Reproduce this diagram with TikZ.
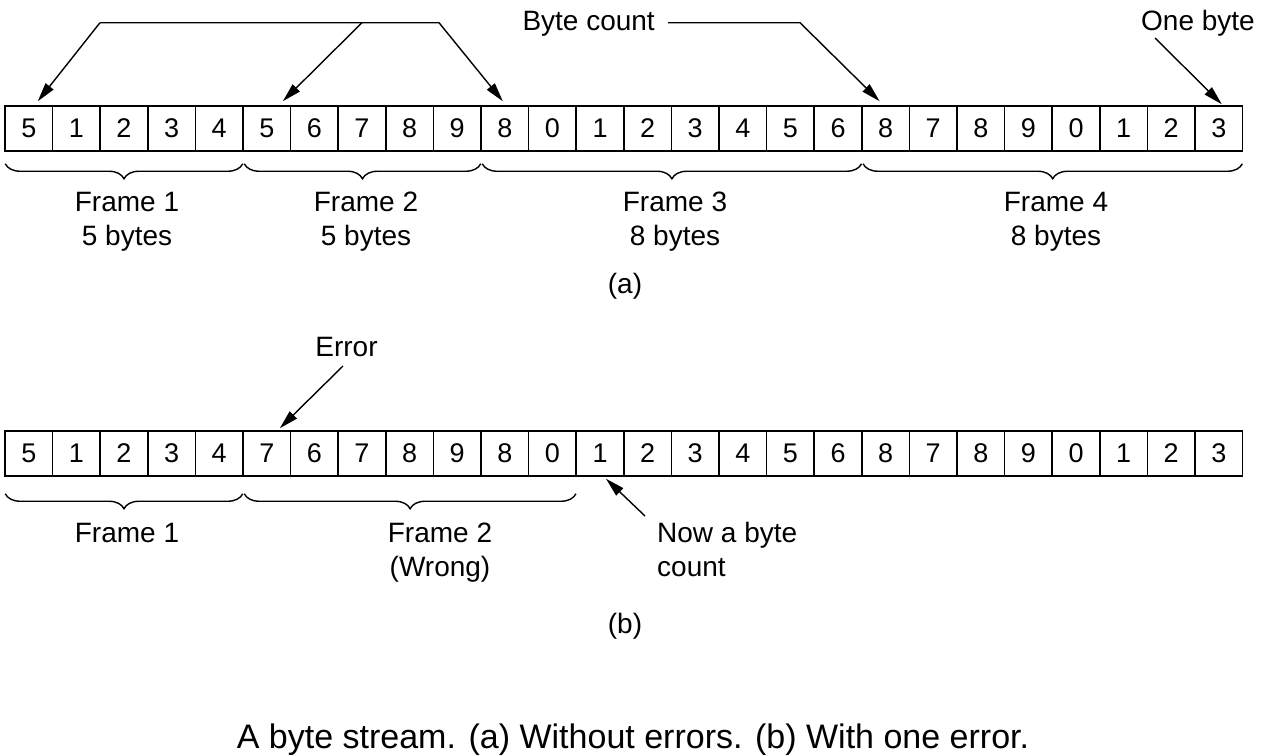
\documentclass[tikz,border=0pt]{standalone}
\usepackage{fontspec}
\setmainfont{Liberation Sans}
\usetikzlibrary{arrows.meta,decorations.pathreplacing,calc}
\begin{document}
\begin{tikzpicture}[x=1pt,y=1pt,
  cell/.style={draw, line width=1.5pt, minimum width=47.6pt, minimum height=45pt, inner sep=0pt, font=\fontsize{27}{27}\selectfont, anchor=center},
  lbl/.style={font=\fontsize{28}{34}\selectfont, inner sep=0pt, anchor=base},
  ptr/.style={line width=1.4pt, -{Triangle[length=19pt,width=10pt]}},
  brc/.style={line width=1.4pt, decorate, decoration={brace, mirror, amplitude=15pt}},
]
\useasboundingbox (0,0) rectangle (1268,-755);

% row (a)
\foreach \d [count=\i] in {5,1,2,3,4,5,6,7,8,9,8,0,1,2,3,4,5,6,8,7,8,9,0,1,2,3}
  \node[cell] (a\i) at ({5+47.6*(\i-0.5)}, -128.5) {\d};
% row (b)
\foreach \d [count=\i] in {5,1,2,3,4,7,6,7,8,9,8,0,1,2,3,4,5,6,8,7,8,9,0,1,2,3}
  \node[cell] (b\i) at ({5+47.6*(\i-0.5)}, -453.5) {\d};

% top pointers (a)
\coordinate (tl) at (100,-22.7);
\coordinate (tm) at (362,-22.7);
\coordinate (tr) at (439,-22.7);
\draw[ptr] (tl) -- (tr) -- ([xshift=-2pt,yshift=4pt]a11.north);
\draw[ptr] (tl) -- ([xshift=9pt,yshift=4pt]a1.north);
\draw[ptr] (tm) -- ([xshift=16pt,yshift=4pt]a6.north);

\node[lbl, anchor=base east] (bc) at (655,-30) {Byte count};
\coordinate (bcl) at (668,-22.7);
\coordinate (bcr) at (800,-22.7);
\draw[ptr] (bcl) -- (bcr) -- ([xshift=-6pt,yshift=4pt]a19.north);

\node[lbl] (ob) at (1198,-30) {One byte};
\coordinate (obt) at (1155,-38);
\draw[ptr] (obt) -- ([xshift=3pt,yshift=1pt]a26.north);

% braces (a)
\draw[brc] ([xshift=1pt,yshift=-12pt]a1.south west) -- ([xshift=-1pt,yshift=-12pt]a5.south east);
\draw[brc] ([xshift=2pt,yshift=-12pt]a6.south west) -- ([xshift=-1pt,yshift=-12pt]a10.south east);
\draw[brc] ([xshift=2pt,yshift=-12pt]a11.south west) -- ([xshift=-1pt,yshift=-12pt]a18.south east);
\draw[brc] ([xshift=2pt,yshift=-12pt]a19.south west) -- ([xshift=-1pt,yshift=-12pt]a26.south east);

\node[lbl, align=center] (fa1) at (127,-245) {Frame 1\\5 bytes};
\node[lbl, align=center] (fa2) at (366,-245) {Frame 2\\5 bytes};
\node[lbl, align=center] (fa3) at (675,-245) {Frame 3\\8 bytes};
\node[lbl, align=center] (fa4) at (1056,-245) {Frame 4\\8 bytes};
\node[lbl] (la) at (625,-293) {(a)};

% (b)
\node[lbl] (err) at (346.5,-356) {Error};
\coordinate (errt) at (343,-366);
\draw[ptr] (errt) -- ([xshift=13pt,yshift=2pt]b6.north);

\draw[brc] ([xshift=1pt,yshift=-17pt]b1.south west) -- ([xshift=-1pt,yshift=-17pt]b5.south east);
\draw[brc] ([xshift=2pt,yshift=-17pt]b6.south west) -- ([xshift=-1pt,yshift=-17pt]b12.south east);

\node[lbl] (fb1) at (127,-542) {Frame 1};
\node[lbl, align=center] (fb2) at (440,-576) {Frame 2\\(Wrong)};
\node[lbl, anchor=base west, align=left] (nb) at (657,-576) {Now a byte\\count};
\coordinate (nbt) at (645,-516);
\draw[ptr] (nbt) -- ([xshift=6pt,yshift=-2pt]b13.south);
\node[lbl] (lb) at (625,-633) {(b)};

\node[font=\fontsize{34}{34}\selectfont, inner sep=0pt, anchor=base] (cap) at (633,-748) {A byte stream. (a) Without errors. (b) With one error.};
\end{tikzpicture}
\end{document}
